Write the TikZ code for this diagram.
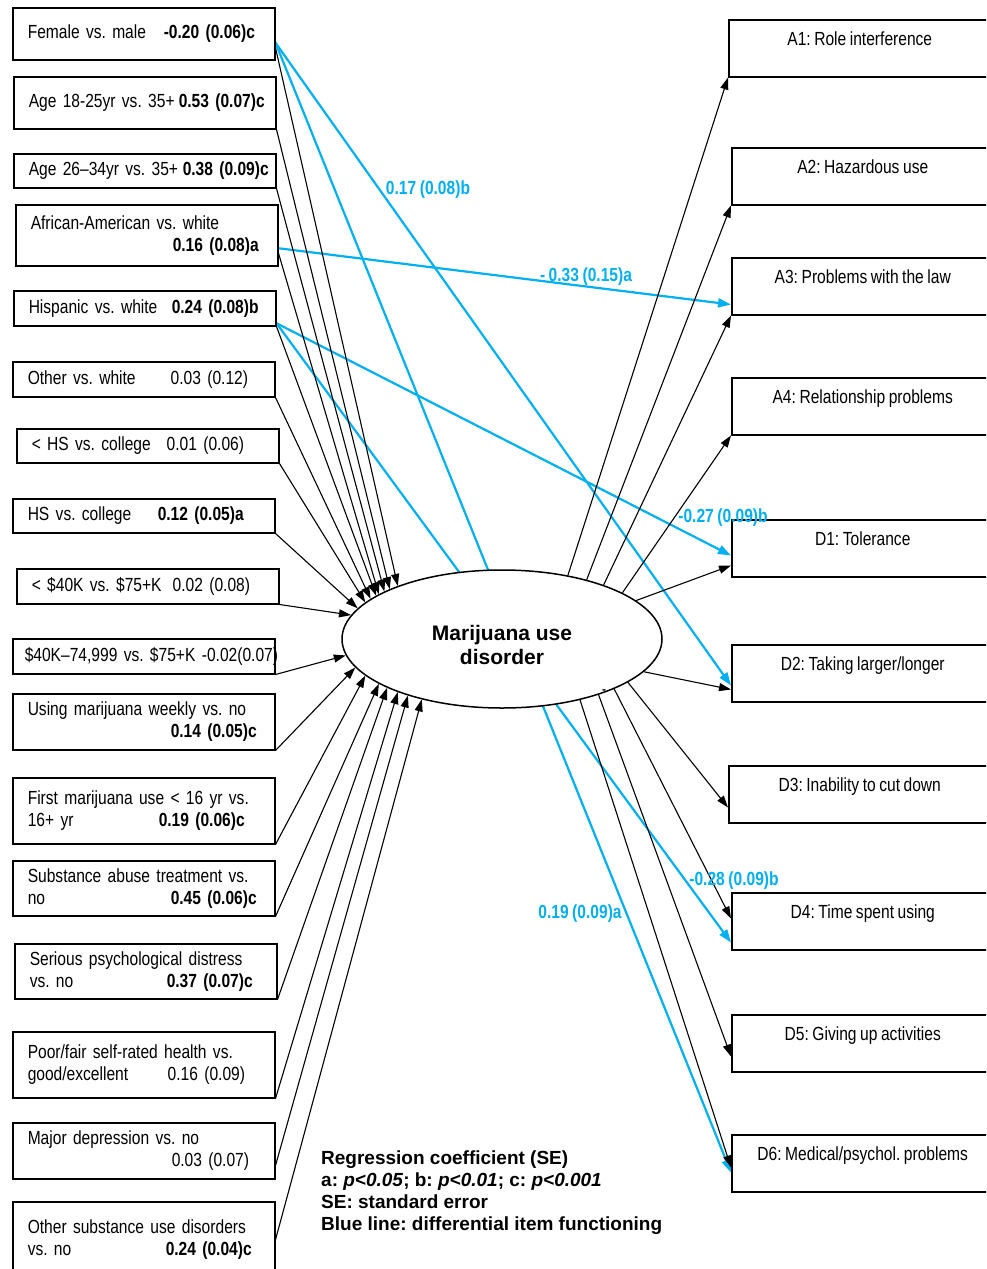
\documentclass[tikz,border=0pt]{standalone}
\usepackage{fontspec}
\setmainfont{Liberation Sans}
\newfontfamily\narrowfont{Liberation Sans}[FakeStretch=0.82, WordSpace=0.82]
\usetikzlibrary{shapes.geometric,arrows.meta,backgrounds}
\definecolor{difblue}{RGB}{0,176,240}
\frenchspacing

\begin{document}
\begin{tikzpicture}[x=1pt, y=-1pt,
    pred/.style = {draw, line width=1.5pt, anchor=north west, align=left,
      text width=232pt, inner xsep=15pt, inner ysep=2pt,
      font=\narrowfont\fontsize{19pt}{22pt}\selectfont},
    symptom/.style = {draw, line width=1.5pt, anchor=north west, align=center,
      minimum width=262pt, minimum height=57pt, text height=14pt, text depth=19pt,
      font=\narrowfont\fontsize{19pt}{22pt}\selectfont},
    lat/.style = {draw, ellipse, line width=1.5pt, fill=white, inner sep=0pt,
      minimum width=320pt, minimum height=138pt, align=center, text height=51pt,
      font=\bfseries\fontsize{21pt}{24pt}\selectfont},
    coef/.style = {text=difblue, inner sep=0pt,
      font=\narrowfont\bfseries\fontsize{19pt}{22pt}\selectfont},
    legendtext/.style = {anchor=north west, align=left, inner sep=0pt,
      font=\bfseries\fontsize{19pt}{22pt}\selectfont},
    reg/.style = {line width=1.1pt, -{Triangle[length=12pt,width=8pt]}},
    dif/.style = {line width=2.2pt, difblue, -{Triangle[length=13pt,width=9pt]}}]

  \clip (0,0) rectangle (986,1269);

  % covariates
  \node[pred, minimum height=52pt] (fem) at (12,7) {\makebox[136pt][l]{Female vs. male}\textbf{-0.20 (0.06)c}};
  \node[pred, minimum height=52pt] (ay) at (13,76) {\mbox{\makebox[150pt][l]{Age 18-25yr vs. 35+}\textbf{0.53 (0.07)c}}};
  \node[pred, minimum height=34pt] (am) at (13,153) {\mbox{\makebox[154pt][l]{Age 26–34yr vs. 35+}\textbf{0.38 (0.09)c}}};
  \node[pred, minimum height=61pt] (afr) at (15,204) {African-American vs. white\\\hspace*{142pt}\textbf{0.16 (0.08)a}};
  \node[pred, minimum height=35pt] (his) at (13,290) {\makebox[143pt][l]{Hispanic vs. white}\textbf{0.24 (0.08)b}};
  \node[pred, minimum height=35pt] (oth) at (12,361) {\makebox[143pt][l]{Other vs. white}0.03 (0.12)};
  \node[pred, minimum height=34pt] (lhs) at (16,428) {\makebox[135pt][l]{< HS vs. college}0.01 (0.06)};
  \node[pred, minimum height=34pt] (hs) at (12,498) {\makebox[130pt][l]{HS vs. college}\textbf{0.12 (0.05)a}};
  \node[pred, minimum height=35pt] (linc) at (16,568) {\makebox[141pt][l]{< \$40K vs. \$75+K}0.02 (0.08)};
  \node[pred, minimum height=35pt] (minc) at (12,638) {\mbox{\hspace*{-3pt}\$40K–74,999 vs. \$75+K -0.02(0.07)}};
  \node[pred, minimum height=56pt] (wk) at (12,693) {Using marijuana weekly vs. no\\\hspace*{143pt}\textbf{0.14 (0.05)c}};
  \node[pred, minimum height=66pt] (fst) at (12,777) {First marijuana use < 16 yr vs.\\\makebox[131pt][l]{16+ yr}\textbf{0.19 (0.06)c}};
  \node[pred, minimum height=55pt] (trt) at (12,860) {Substance abuse treatment vs.\\\makebox[143pt][l]{no}\textbf{0.45 (0.06)c}};
  \node[pred, minimum height=55pt] (spd) at (14,943) {Serious psychological distress\\\makebox[137pt][l]{vs. no}\textbf{0.37 (0.07)c}};
  \node[pred, minimum height=66pt] (hlth) at (12,1031) {Poor/fair self-rated health vs.\\\makebox[140pt][l]{good/excellent}0.16 (0.09)};
  \node[pred, minimum height=56pt] (dep) at (12,1122) {Major depression vs. no\\\hspace*{144pt}0.03 (0.07)};
  \node[pred, minimum height=76pt] (sud) at (12,1201) {Other substance use disorders\\\makebox[138pt][l]{vs. no}\textbf{0.24 (0.04)c}};

  % latent factor
  \node[lat] (mud) at (502,639) {Marijuana use\\disorder};

  % criteria
  \node[symptom] (a1) at (728,19) {A1: Role interference};
  \node[symptom] (a2) at (731,147) {A2: Hazardous use};
  \node[symptom] (a3) at (731,257) {A3: Problems with the law};
  \node[symptom] (a4) at (731,377) {A4: Relationship problems};
  \node[symptom] (d1) at (731,519) {D1: Tolerance};
  \node[symptom] (d2) at (731,644) {D2: Taking larger/longer};
  \node[symptom] (d3) at (728,765) {D3: Inability to cut down};
  \node[symptom] (d4) at (731,892) {D4: Time spent using};
  \node[symptom] (d5) at (731,1014) {D5: Giving up activities};
  \node[symptom] (d6) at (731,1134) {D6: Medical/psychol. problems};

  % covariates -> factor
  \draw[reg] ([yshift=-14pt]fem.east) -- (mud.153);
  \draw[reg] (ay.south east) -- (mud.156);
  \draw[reg] (am.south east) -- (mud.158);
  \draw[reg] ([yshift=-18pt]afr.east) -- (mud.160);
  \draw[reg] (his.south east) -- (mud.161);
  \draw[reg] (oth.south east) -- (mud.163);
  \draw[reg] (lhs.south east) -- (mud.165);
  \draw[reg] (hs.south east) -- (mud.168);
  \draw[reg] (linc.south east) -- (mud.171);
  \draw[reg] (minc.south east) -- (mud.186);
  \draw[reg] (wk.south east) -- (mud.191);
  \draw[reg] (fst.south east) -- (mud.195);
  \draw[reg] (trt.south east) -- (mud.200);
  \draw[reg] (spd.south east) -- (mud.203);
  \draw[reg] (hlth.south east) -- (mud.207);
  \draw[reg] ([yshift=14pt]dep.south east) -- (mud.211);
  \draw[reg] (sud.east) -- (mud.217);

  % factor -> criteria
  \draw[reg] (mud.44) -- (a1.south west);
  \draw[reg] (mud.35) -- (a2.south west);
  \draw[reg] (mud.28) -- (a3.south west);
  \draw[reg] (mud.21) -- (a4.south west);
  \draw[reg] (mud.16) -- ([yshift=12pt]d1.south west);
  \draw[reg] (mud.-13) -- ([yshift=13pt]d2.south west);
  \draw[reg] (mud.-19) -- ([yshift=16pt]d3.south west);
  \draw[reg] (mud.-24) -- ([yshift=32pt]d4.south west);
  \draw[reg] (mud.-30) -- ([yshift=16pt]d5.south west);
  \draw[reg] (mud.-38) -- ([yshift=25pt]d6.south west);

  % DIF paths
  \begin{scope}[on background layer]
    \draw[dif] ([yshift=-9pt]fem.east) -- ([yshift=17pt]d2.south west);
    \draw[dif] ([yshift=-9pt]fem.east) -- ([yshift=20pt]d6.south west);
    \draw[dif] ([yshift=-13pt]afr.east) -- ([yshift=11pt]a3.south west);
    \draw[dif] ([yshift=-15pt]his.east) -- ([yshift=22pt]d1.south west);
    \draw[dif] ([yshift=-15pt]his.east) -- ([yshift=8pt]d4.south west);
  \end{scope}

  \node[coef] (c1) at (428,190) {0.17 (0.08)b};
  \node[coef] (c2) at (586,277) {- 0.33 (0.15)a};
  \node[coef] (c3) at (723,518) {-0.27 (0.09)b};
  \node[coef] (c4) at (734,881) {-0.28 (0.09)b};
  \node[coef] (c5) at (580,914) {0.19 (0.09)a};

  \node[inner sep=0pt, font=\bfseries\fontsize{12pt}{12pt}\selectfont] (tick) at (604,692) {-};

  % legend
  \node[legendtext] (note) at (321,1151) {Regression coefficient (SE)\\
    a: \textit{p<0.05}; b: \textit{p<0.01}; c: \textit{p<0.001}\\
    SE: standard error\\
    Blue line: differential item functioning};

\end{tikzpicture}
\end{document}
